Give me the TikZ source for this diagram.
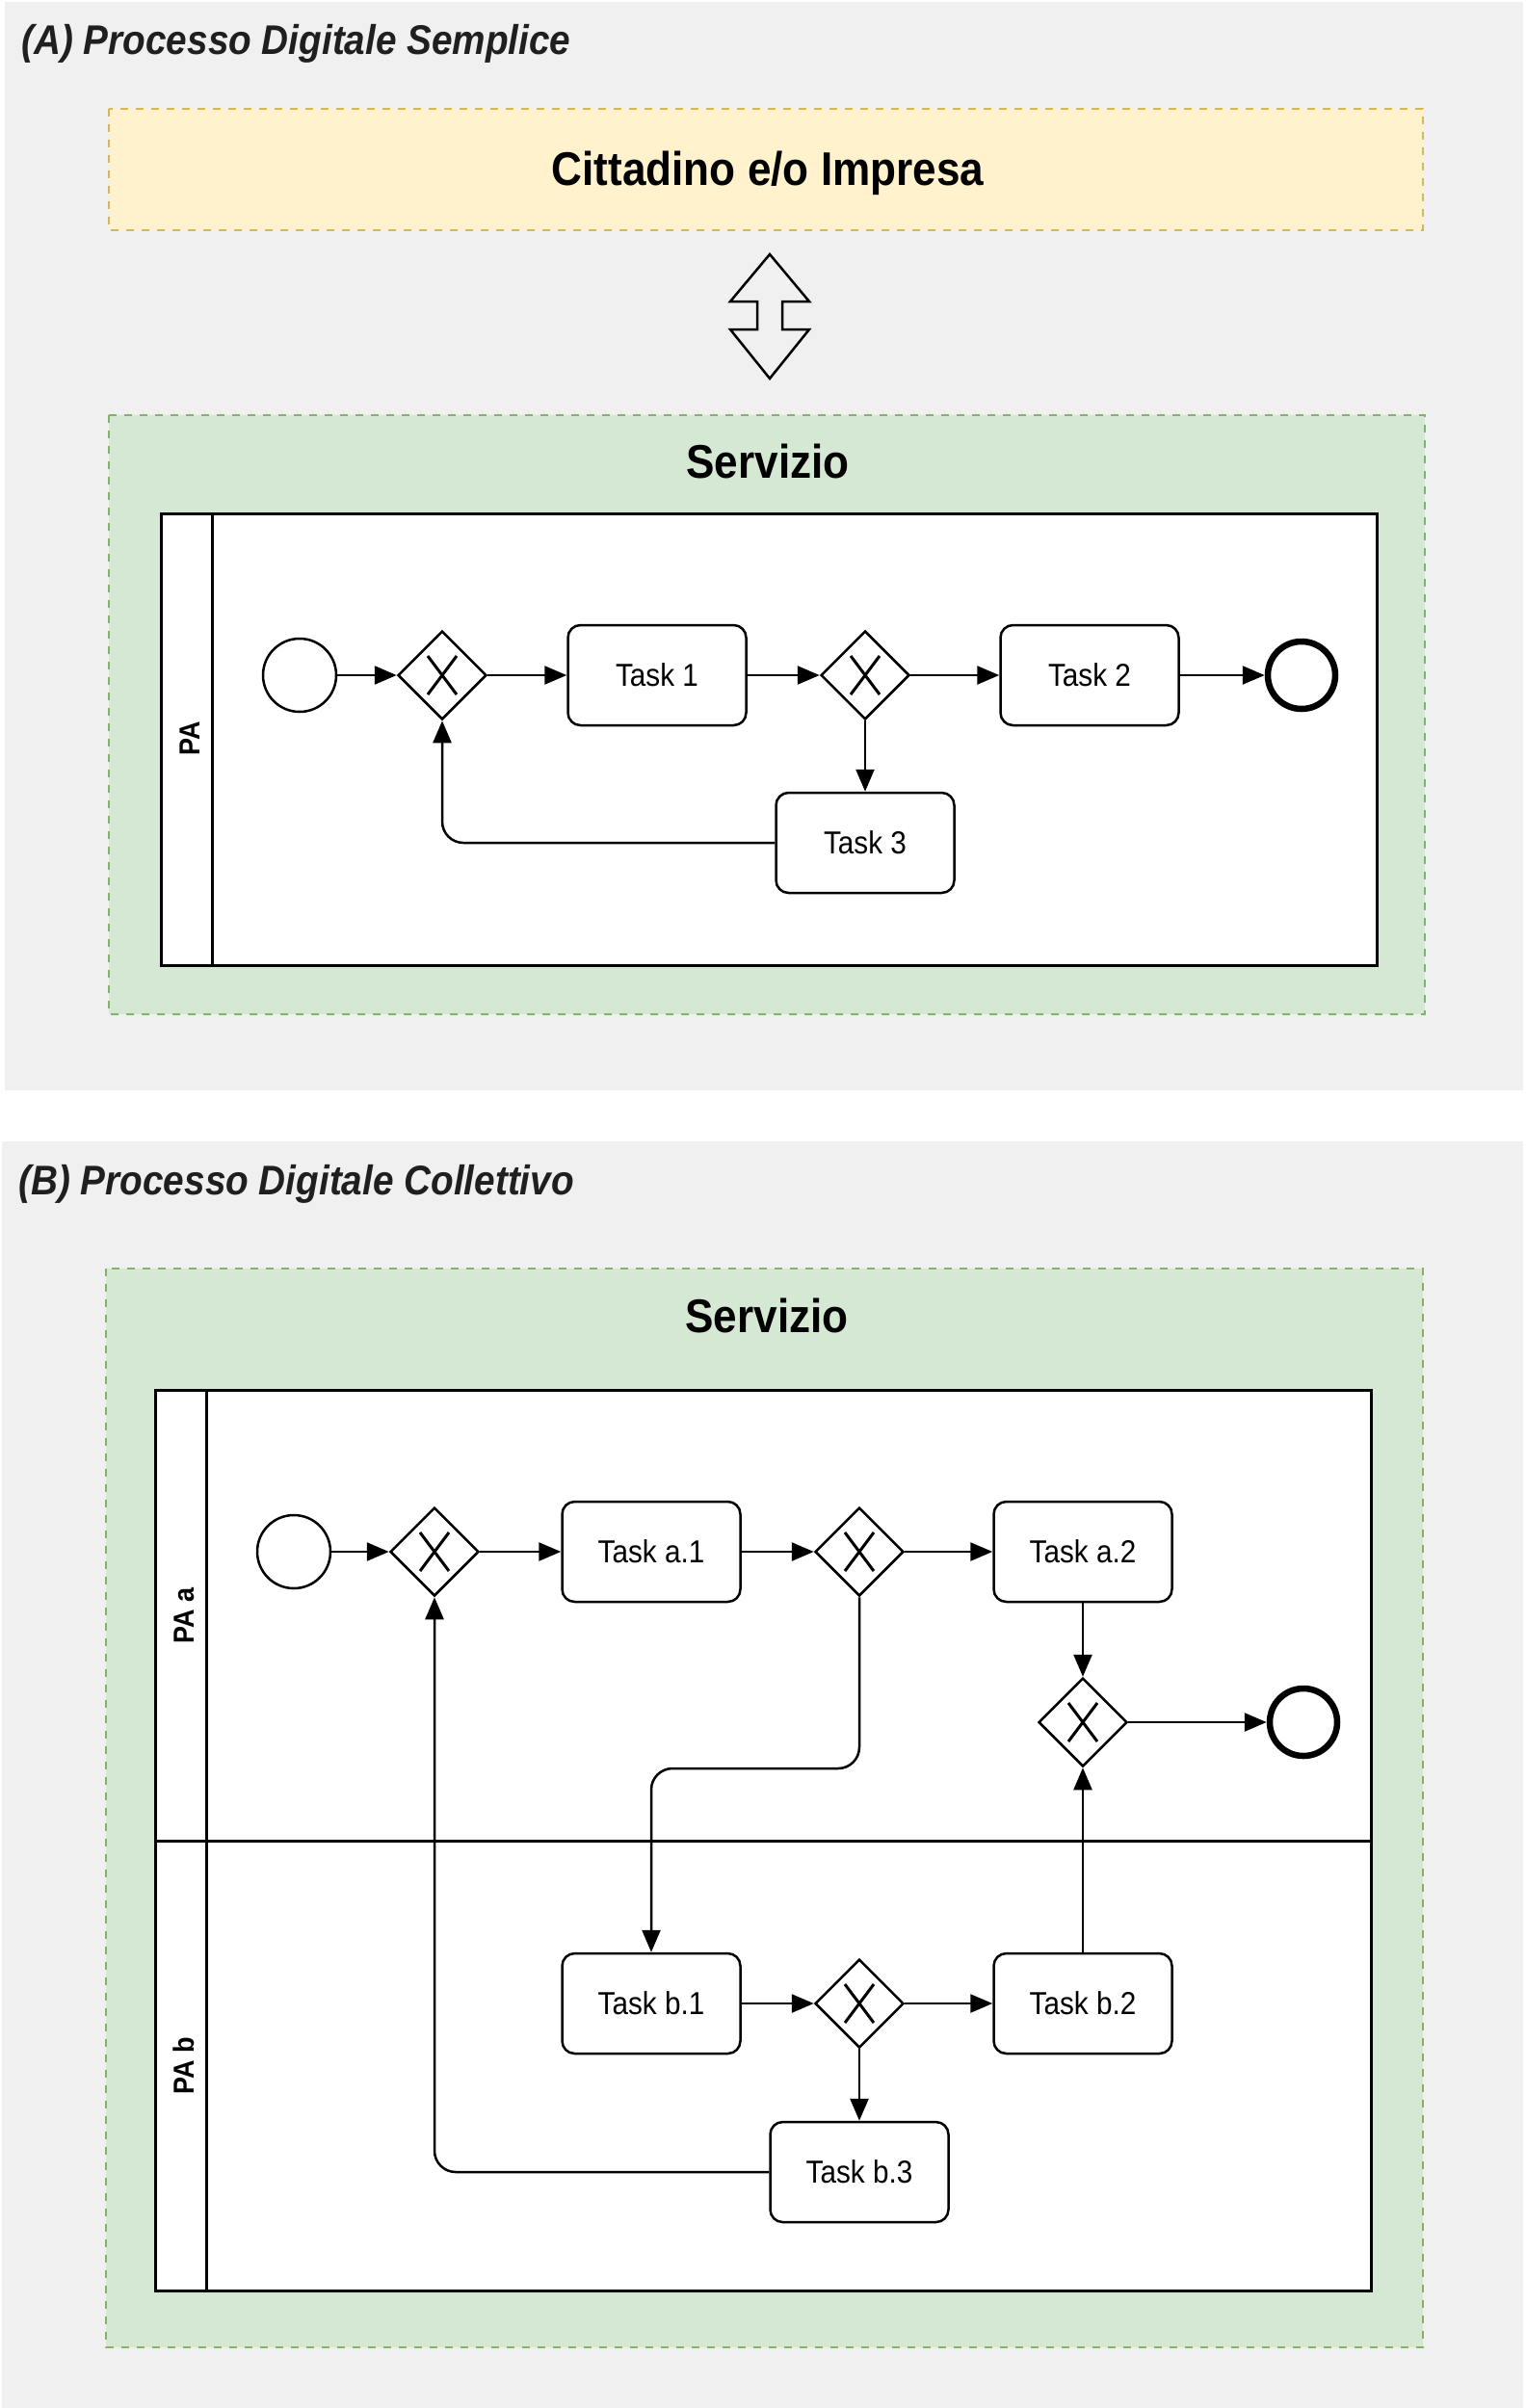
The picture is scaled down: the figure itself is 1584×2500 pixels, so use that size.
\documentclass[tikz,border=0pt]{standalone}
\usepackage{fontspec}
\setmainfont[FakeStretch=0.9]{Liberation Sans}
\usetikzlibrary{arrows.meta,shapes.geometric}
\definecolor{panelgray}{HTML}{F0F0F0}
\definecolor{userfill}{HTML}{FFF2CC}
\definecolor{userline}{HTML}{D6B656}
\definecolor{servfill}{HTML}{D5E8D4}
\definecolor{servline}{HTML}{82B366}
\tikzset{
  panel/.style={fill=panelgray,draw=none},
  userbox/.style={fill=userfill,draw=userline,line width=2.5pt,dash pattern=on 8pt off 8pt},
  servbox/.style={fill=servfill,draw=servline,line width=2.5pt,dash pattern=on 8pt off 8pt},
  pool/.style={fill=white,draw,line width=3pt},
  paneltitle/.style={anchor=west,font=\fontsize{43}{48}\selectfont\bfseries\itshape,text=black!88},
  boxtitle/.style={font=\fontsize{49}{54}\selectfont\bfseries},
  lanelabel/.style={rotate=90,font=\fontsize{30}{34}\selectfont\bfseries},
  task/.style={draw,fill=white,rounded corners=13pt,line width=2.5pt,minimum width=185pt,minimum height=104pt,font=\fontsize{33}{37}\selectfont},
  gate/.style={diamond,draw,fill=white,line width=2.5pt,minimum width=92pt,minimum height=92pt,inner sep=0pt,
    path picture={\draw[line width=3pt]
      ([shift={(-15pt,-20pt)}]path picture bounding box.center) -- ([shift={(15pt,20pt)}]path picture bounding box.center)
      ([shift={(-15pt,20pt)}]path picture bounding box.center) -- ([shift={(15pt,-20pt)}]path picture bounding box.center);}},
  startev/.style={circle,draw,fill=white,line width=2.5pt,minimum size=76pt,inner sep=0pt},
  endev/.style={startev,line width=6.5pt,minimum size=70pt},
  flow/.style={line width=2.5pt,-{Triangle[length=23pt,width=19pt]}}
}
\begin{document}
\begin{tikzpicture}[x=1pt,y=-1pt]
\useasboundingbox (0,0) rectangle (1584,2500);
% (A)
\fill[panel] (5,2) rectangle (1581,1132);
\node[paneltitle] at(19,45){(A) Processo Digitale Semplice};
\draw[userbox] (113,113) rectangle (1477,239);
\node[boxtitle] at(797,180){Cittadino e/o Impresa};
\draw[line width=2.5pt,line join=miter] (799,264) -- (840,313) -- (812,313) -- (812,342) -- (840,342) -- (799,393)
  -- (758,342) -- (786,342) -- (786,313) -- (758,313) -- cycle;
\draw[servbox] (113,431) rectangle (1479,1053);
\node[boxtitle] at(797,479){Servizio};
\draw[pool] (167,533) rectangle (1429,1002);
\draw[line width=3pt] (220,533) -- (220,1002);
\node[lanelabel] at(197,767){PA};
\node[startev] (startA) at(311,701){};
\node[gate] (gwA1) at(459,701){};
\node[task] (taskA1) at(682,701){Task 1};
\node[gate] (gwA2) at(898,701){};
\node[task] (taskA2) at(1131,701){Task 2};
\node[endev] (endA) at(1351,701){};
\node[task] (taskA3) at(898,875){Task 3};
\draw[flow] (startA) -- (gwA1);
\draw[flow] (gwA1) -- (taskA1);
\draw[flow] (taskA1) -- (gwA2);
\draw[flow] (gwA2) -- (taskA2);
\draw[flow] (taskA2) -- (endA);
\draw[flow] (gwA2) -- (taskA3);
\draw[flow,rounded corners=22pt] (taskA3.west) -| (gwA1.south);
% (B)
\fill[panel] (2,1185) rectangle (1581,2500);
\node[paneltitle] at(16,1229){(B) Processo Digitale Collettivo};
\draw[servbox] (110,1317) rectangle (1477,2437);
\node[boxtitle] at(796,1366){Servizio};
\draw[pool] (161,1443) rectangle (1423,2378);
\draw[line width=3pt] (214,1443) -- (214,2378);
\draw[line width=3pt] (161,1911) -- (1423,1911);
\node[lanelabel] at(191,1677){PA a};
\node[lanelabel] at(191,2145){PA b};
\node[startev] (startB) at(305,1611){};
\node[gate] (gwB1) at(451,1611){};
\node[task] (taskBa1) at(676,1611){Task a.1};
\node[gate] (gwB2) at(892,1611){};
\node[task] (taskBa2) at(1124,1611){Task a.2};
\node[gate] (gwB3) at(1124,1788){};
\node[endev] (endB) at(1353,1788){};
\node[task] (taskBb1) at(676,2080){Task b.1};
\node[gate] (gwB4) at(892,2080){};
\node[task] (taskBb2) at(1124,2080){Task b.2};
\node[task] (taskBb3) at(892,2255){Task b.3};
\coordinate (bendB) at(676,1836);
\draw[flow] (startB) -- (gwB1);
\draw[flow] (gwB1) -- (taskBa1);
\draw[flow] (taskBa1) -- (gwB2);
\draw[flow] (gwB2) -- (taskBa2);
\draw[flow] (taskBa2) -- (gwB3);
\draw[flow] (gwB3) -- (endB);
\draw[flow,rounded corners=22pt] (gwB2.south) |- (bendB) -- (taskBb1.north);
\draw[flow] (taskBb1) -- (gwB4);
\draw[flow] (gwB4) -- (taskBb2);
\draw[flow] (gwB4) -- (taskBb3);
\draw[flow] (taskBb2) -- (gwB3);
\draw[flow,rounded corners=22pt] (taskBb3.west) -| (gwB1.south);
\end{tikzpicture}
\end{document}
